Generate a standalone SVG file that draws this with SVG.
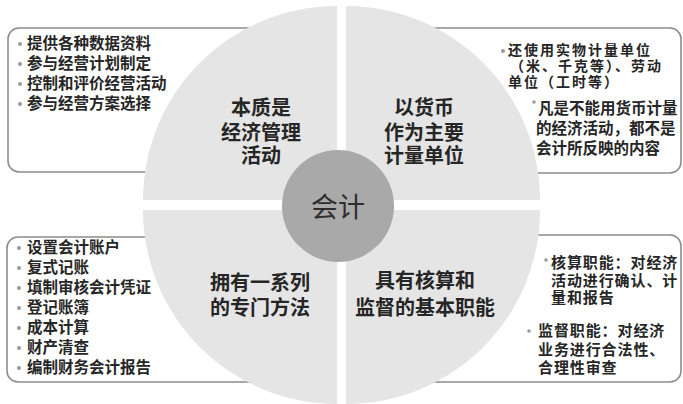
<svg xmlns="http://www.w3.org/2000/svg" width="683" height="404" viewBox="0 0 683 404">
<style>
.box{fill:#ffffff;stroke:#8c8c8c;stroke-width:1.6}
.quad{fill:#e5e5e5}
.t{font-family:"Noto Sans CJK SC","Noto Sans",sans-serif;font-weight:bold;fill:#262626}
.li{font-size:15.5px}
.sm{font-size:14px;letter-spacing:2px}
.md{font-size:15px;letter-spacing:0.9px}
.lab{font-size:20px;text-anchor:middle}
.dot{fill:#9a9a9a}
</style>
<rect width="683" height="404" fill="#ffffff"/>
<g id="box-tl">
<rect class="box" x="8" y="28" width="300" height="144" rx="11"/>
<circle class="dot" cx="20" cy="44" r="2"/>
<circle class="dot" cx="20" cy="64" r="2"/>
<circle class="dot" cx="20" cy="84" r="2"/>
<circle class="dot" cx="20" cy="104" r="2"/>
<text class="t li" x="27" y="49">提供各种数据资料</text>
<text class="t li" x="27" y="69">参与经营计划制定</text>
<text class="t li" x="27" y="89">控制和评价经营活动</text>
<text class="t li" x="27" y="109">参与经营方案选择</text>
</g>
<g id="box-tr">
<rect class="box" x="390" y="28" width="291" height="145" rx="11"/>
</g>
<g id="box-bl">
<rect class="box" x="7" y="237" width="300" height="145" rx="11"/>
</g>
<g id="box-br">
<rect class="box" x="390" y="235" width="291" height="147" rx="11"/>
</g>
<g id="quadrants">
<path class="quad" d="M337,200 L143,200 A194,194 0 0 1 337,6 Z"/>
<path class="quad" d="M346,200 L346,6 A194,194 0 0 1 540,200 Z"/>
<path class="quad" d="M337,210 L337,404 A194,194 0 0 1 143,210 Z"/>
<path class="quad" d="M346,210 L540,210 A194,194 0 0 1 346,404 Z"/>
</g>
<g id="node-tl">
<text class="t lab" x="261" y="114.5">本质是</text>
<text class="t lab" x="261" y="139.5">经济管理</text>
<text class="t lab" x="261" y="162.5">活动</text>
</g>
<g id="node-tr">
<text class="t lab" x="424" y="114.5">以货币</text>
<text class="t lab" x="424" y="139.5">作为主要</text>
<text class="t lab" x="424" y="162.5">计量单位</text>
</g>
<g id="node-bl">
<text class="t lab" x="260" y="289.5">拥有一系列</text>
<text class="t lab" x="260" y="314.5">的专门方法</text>
</g>
<g id="node-br">
<text class="t lab" x="425" y="287.5">具有核算和</text>
<text class="t lab" x="425" y="314.5">监督的基本职能</text>
</g>
<g id="text-tr">
<circle class="dot" cx="503" cy="51" r="2"/>
<text class="t sm" x="508" y="55">还使用实物计量单位</text>
<text class="t sm" x="510" y="71">（米、千克等）、劳动</text>
<text class="t sm" x="508" y="87">单位（工时等）</text>
<circle class="dot" cx="534" cy="102" r="1.8"/>
<text class="t li" x="538" y="114">凡是不能用货币计量</text>
<text class="t li" x="536" y="134">的经济活动，都不是</text>
<text class="t li" x="536" y="154">会计所反映的内容</text>
</g>
<g id="text-bl">
<circle class="dot" cx="19" cy="248" r="2"/>
<circle class="dot" cx="19" cy="268" r="2"/>
<circle class="dot" cx="19" cy="288" r="2"/>
<circle class="dot" cx="19" cy="308" r="2"/>
<circle class="dot" cx="19" cy="328" r="2"/>
<circle class="dot" cx="19" cy="348" r="2"/>
<circle class="dot" cx="19" cy="368" r="2"/>
<text class="t li" x="27" y="253">设置会计账户</text>
<text class="t li" x="27" y="273">复式记账</text>
<text class="t li" x="27" y="293">填制审核会计凭证</text>
<text class="t li" x="27" y="313">登记账簿</text>
<text class="t li" x="27" y="333">成本计算</text>
<text class="t li" x="27" y="353">财产清查</text>
<text class="t li" x="27" y="373">编制财务会计报告</text>
</g>
<g id="text-br">
<circle class="dot" cx="546" cy="260" r="1.8"/>
<text class="t md" x="551" y="267.5">核算职能：对经济</text>
<text class="t md" x="551" y="285.5">活动进行确认、计</text>
<text class="t md" x="551" y="302.5">量和报告</text>
<circle class="dot" cx="529" cy="331" r="1.8"/>
<text class="t md" x="538" y="335.5">监督职能：对经济</text>
<text class="t md" x="538" y="354.5">业务进行合法性、</text>
<text class="t md" x="538" y="372.5">合理性审查</text>
</g>
<g id="node-center">
<circle cx="338" cy="206" r="56" fill="#a9a9a9"/>
<text x="338" y="217" text-anchor="middle" font-family="Noto Sans CJK SC, sans-serif" font-size="27" fill="#2e2e2e">会计</text>
</g>
</svg>
